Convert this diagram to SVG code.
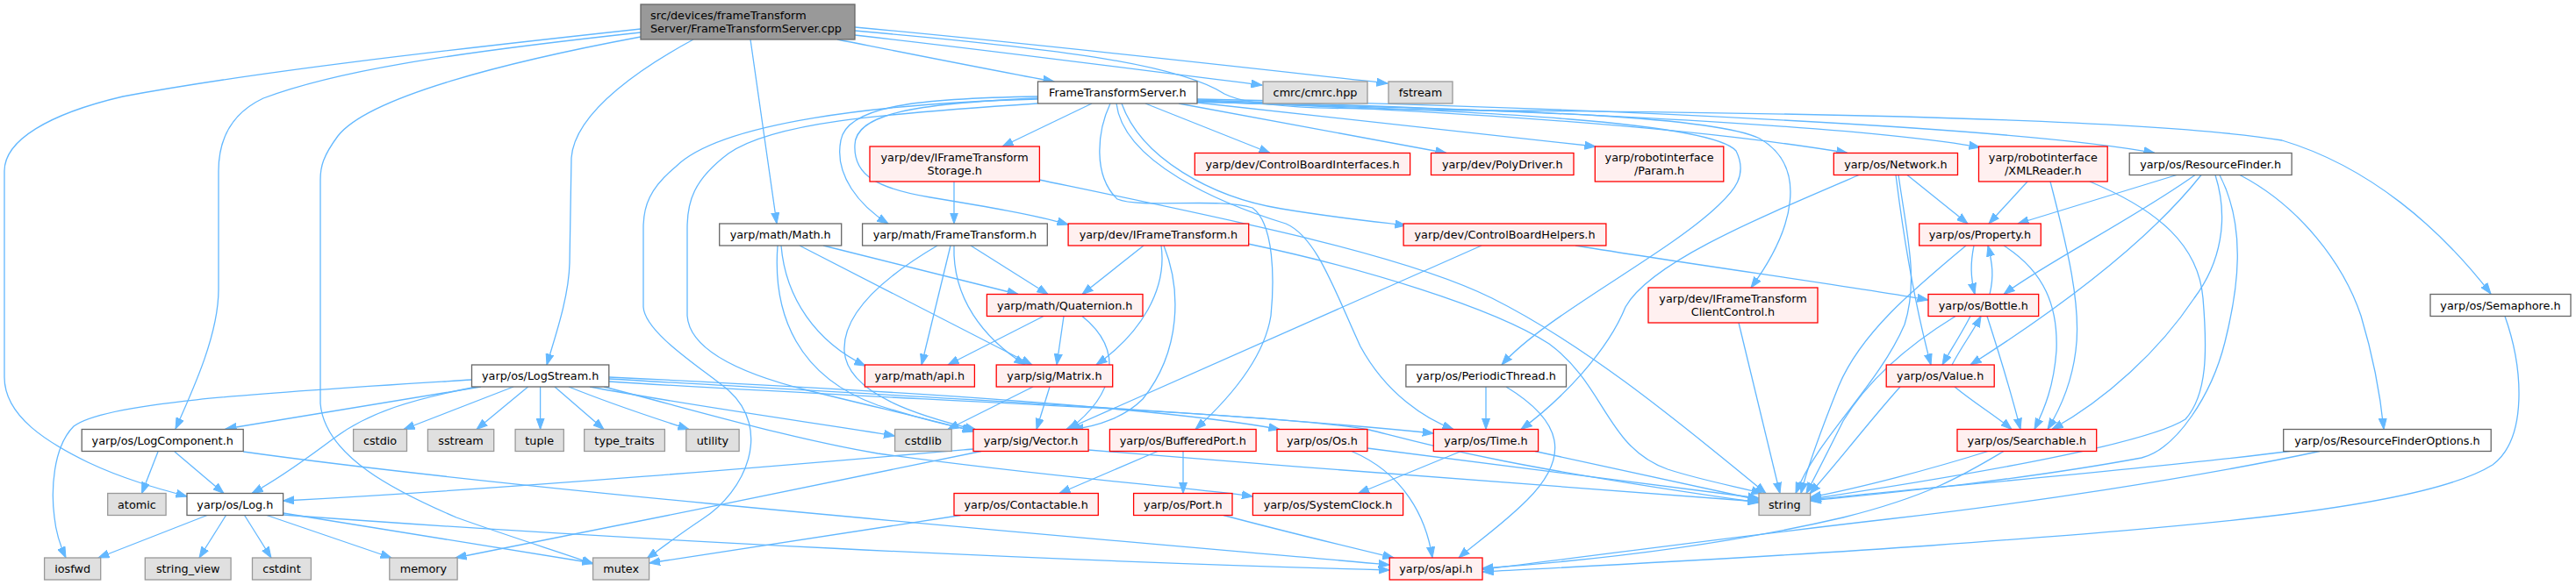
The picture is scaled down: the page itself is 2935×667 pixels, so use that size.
<svg xmlns="http://www.w3.org/2000/svg" width="2935" height="667" viewBox="0 0 2935 667">
<style>
.e{fill:none;stroke:#63b8ff;stroke-width:1.3;marker-end:url(#a)}
rect{stroke-width:1.3}
.w{fill:#fff;stroke:#666}
.r{fill:#fff0f0;stroke:#f00}
.g{fill:#e0e0e0;stroke:#999}
.k{fill:#999;stroke:#666}
text{font-family:"DejaVu Sans",sans-serif;font-size:12.8px;fill:#000;text-anchor:middle}
text.l{text-anchor:start}
</style>
<defs>
<marker id="a" markerWidth="14" markerHeight="10" refX="12.5" refY="5" orient="auto" markerUnits="userSpaceOnUse"><path d="M0,0.5 L12.5,5 L0,9.5 z" fill="#63b8ff" stroke="#63b8ff"/></marker>
</defs>
<rect width="2935" height="667" fill="#fff"/>
<g id="edges">
<path class="e" d="M954,45 C1040,62 1130,80 1201,93"/>
<path class="e" d="M974,40 C1150,60 1300,80 1438,97"/>
<path class="e" d="M974,31 C1200,52 1400,75 1581,95"/>
<path class="e" d="M974,35 C1200,55 1340,72 1395,107 C1430,125 1520,124 1700,126 C2000,128 2450,135 2600,160 C2700,190 2780,260 2838,335"/>
<path class="e" d="M790,45 C740,72 655,125 651,180 L649,300 C648,340 632,385 623,416"/>
<path class="e" d="M730,37 C500,62 380,82 300,112 C262,130 249,160 249,195 L249,330 C249,380 222,440 200,489"/>
<path class="e" d="M730,33 C500,58 290,82 140,110 C55,130 5,160 5,195 L5,430 C5,475 55,505 100,527 C140,546 180,557 213,566"/>
<path class="e" d="M730,42 C580,70 420,110 385,155 C368,178 365,190 365,205 L365,460 C370,520 450,560 520,590 C590,615 640,630 676,643"/>
<path class="e" d="M855,45 L885,255"/>
<path class="e" d="M1244,118 L1142,167"/>
<path class="e" d="M1305,118 L1447,174.5"/>
<path class="e" d="M1343,118 L1648,174.5"/>
<path class="e" d="M1364,117 L1818,167"/>
<path class="e" d="M1364,115 C1600,125 1900,140 2105,174.5"/>
<path class="e" d="M1364,114 C1700,125 2100,140 2256,168"/>
<path class="e" d="M1364,113 C1800,122 2300,145 2455,174.5"/>
<path class="e" d="M1364,116 C1600,124 1940,126 2005,158 C2060,190 2045,260 1995,328"/>
<path class="e" d="M1364,116 C1700,126 1950,140 1978,172 C1992,200 1975,218 1958,234 C1900,290 1760,360 1711,416"/>
<path class="e" d="M1272,118 C1280,185 1390,232 1465,255 C1500,270 1520,330 1550,395 C1580,450 1625,478 1656,489.5"/>
<path class="e" d="M1278,118 C1300,180 1380,225 1460,238 C1520,248 1560,252 1602,257"/>
<path class="e" d="M1182,112 C1040,118 975,130 974,165 C972,200 1000,215 1060,225 C1120,235 1180,245 1217,256"/>
<path class="e" d="M1182,110 C1050,112 965,120 958,160 C950,200 980,235 1012,255"/>
<path class="e" d="M1182,118 C1000,130 880,140 830,175 C790,205 783,230 783,260 L783,360 C785,390 820,420 920,445 C1000,465 1060,478 1110,492"/>
<path class="e" d="M1182,113 C1000,118 820,140 770,190 C740,215 733,235 733,260 L733,350 C735,380 800,420 830,445 C880,490 850,560 800,592 C770,612 752,626 737,637"/>
<path class="e" d="M1265,118 C1250,150 1245,200 1273,227 C1300,238 1390,225 1427,237 C1452,255 1452,320 1448,360 C1440,410 1400,455 1362,489.5"/>
<path class="e" d="M1087,207 L1087,255"/>
<path class="e" d="M1184,205 C1400,250 1600,290 1700,340 C1800,390 1900,470 2012,562.5"/>
<path class="e" d="M1303,280 L1233,335.5"/>
<path class="e" d="M1323,280 C1330,330 1300,380 1249,416"/>
<path class="e" d="M1326,280 C1346,330 1346,400 1302,455 C1282,475 1252,486 1222,489.5"/>
<path class="e" d="M1422,278 C1550,305 1700,350 1765,392 C1830,440 1830,510 1900,535 C1940,548 1980,555 2008,562.5"/>
<path class="e" d="M1106,280 L1194,335.5"/>
<path class="e" d="M1083,280 L1050,416"/>
<path class="e" d="M1087,280 C1085,340 1120,385 1168,416"/>
<path class="e" d="M1068,280 C1000,320 960,360 962,400 C965,450 1050,475 1112,490"/>
<path class="e" d="M938,280 L1160,335.5"/>
<path class="e" d="M911,280 L1176,416"/>
<path class="e" d="M890,280 C895,340 930,390 986,417"/>
<path class="e" d="M886,280 C880,360 910,430 1000,462 C1050,478 1080,485 1109,491"/>
<path class="e" d="M1189,360.5 L1080,416"/>
<path class="e" d="M1212,360.5 L1204,416"/>
<path class="e" d="M1233,360.5 C1282,400 1270,450 1218,489.5"/>
<path class="e" d="M1177,441 L1080,489.5"/>
<path class="e" d="M1196,441 L1181,489.5"/>
<path class="e" d="M1688,280 C1600,320 1450,385 1215,489.5"/>
<path class="e" d="M1795,280 C1950,305 2100,325 2197,342"/>
<path class="e" d="M2173,199.5 L2242,255"/>
<path class="e" d="M2160,199.5 C2170,280 2185,360 2200,416"/>
<path class="e" d="M2118,199.5 C2000,250 1880,300 1852,350 C1832,400 1780,455 1733,489.5"/>
<path class="e" d="M2163,199.5 C2173,270 2186,320 2170,370 C2140,440 2070,500 2046,562.5"/>
<path class="e" d="M2310,207 L2266,255"/>
<path class="e" d="M2336,207 C2355,280 2372,350 2365,400 C2360,440 2345,470 2333,489.5"/>
<path class="e" d="M2381,207 C2460,240 2505,280 2510,340 C2515,400 2515,450 2490,478 C2440,510 2200,548 2062.6,569"/>
<path class="e" d="M2480,199.5 L2299,255"/>
<path class="e" d="M2501,199.5 C2430,250 2330,300 2283,335.5"/>
<path class="e" d="M2508,199.5 C2460,260 2380,330 2245,416"/>
<path class="e" d="M2524,199.5 C2540,250 2530,300 2500,340 C2460,400 2400,455 2338,489.5"/>
<path class="e" d="M2529,199.5 C2560,260 2550,330 2535,390 C2520,450 2480,512 2440,522 C2300,548 2150,562 2062.6,571"/>
<path class="e" d="M2552,199.5 C2620,235 2670,300 2690,360 C2705,410 2712,450 2716,489.5"/>
<path class="e" d="M2249,280 C2245,300 2245,315 2250,335.5"/>
<path class="e" d="M2240,280 C2180,330 2120,380 2095,440 C2075,490 2060,530 2052,562.5"/>
<path class="e" d="M2283,280 C2330,310 2345,350 2343,400 C2340,440 2330,465 2318,489.5"/>
<path class="e" d="M2267,335.5 C2272,315 2270,300 2265,280"/>
<path class="e" d="M2245,360.5 C2235,380 2222,400 2213,416"/>
<path class="e" d="M2264,360.5 C2280,410 2292,450 2302,489.5"/>
<path class="e" d="M2228,360.5 C2180,390 2130,430 2100,480 C2085,510 2070,540 2058,562.5"/>
<path class="e" d="M2224,416 C2235,395 2248,378 2257,360.5"/>
<path class="e" d="M2227,441 C2250,460 2275,475 2292,489.5"/>
<path class="e" d="M2165,441 C2130,480 2100,520 2062,563"/>
<path class="e" d="M2265,514.5 C2200,535 2120,556 2062.6,567"/>
<path class="e" d="M2283,514.5 C2240,540 2200,565 2100,590 C1950,625 1800,640 1689,648"/>
<path class="e" d="M2609,514.5 C2450,535 2200,555 2062.6,570"/>
<path class="e" d="M2643,514.5 C2500,545 2300,575 2150,592 C1950,615 1800,636 1689,649"/>
<path class="e" d="M2854,360.5 C2875,420 2880,500 2840,530 C2760,580 2500,600 2200,622 C2000,636 1800,646 1689,652"/>
<path class="e" d="M1981,368 L2028,562.5"/>
<path class="e" d="M1693,441 L1693,489.5"/>
<path class="e" d="M1716,441 C1780,480 1790,520 1740,570 C1710,600 1680,620 1662,636"/>
<path class="e" d="M537.5,433 C300,448 120,458 84,486 C60,510 58,560 62,590 C64,610 70,625 75,636"/>
<path class="e" d="M548,441 L257,489"/>
<path class="e" d="M543,441 C470,455 420,470 380,500 C340,530 310,550 287,562.5"/>
<path class="e" d="M585,441 L460,489.5"/>
<path class="e" d="M601.6,441 L543,489.5"/>
<path class="e" d="M615.6,441 L615.6,489.5"/>
<path class="e" d="M632,441 L688,489.5"/>
<path class="e" d="M648,441 C690,458 740,475 785,489.5"/>
<path class="e" d="M672,441 C800,465 950,485 1019.6,497"/>
<path class="e" d="M693.8,430 C900,440 1300,460 1458,489.5"/>
<path class="e" d="M693.8,432 C1000,450 1400,470 1633.3,494"/>
<path class="e" d="M693.8,435 C1000,455 1450,470 1560,490 C1620,505 1700,530 2004,573"/>
<path class="e" d="M688,441 C800,470 900,500 1000,517 C1200,545 1350,555 1427.4,566"/>
<path class="e" d="M180,515 L161.5,562.5"/>
<path class="e" d="M199,515 L255,562.5"/>
<path class="e" d="M277.2,515 C600,560 1200,610 1583.2,644"/>
<path class="e" d="M236,587.5 L112,636"/>
<path class="e" d="M257.5,587.5 L227,636"/>
<path class="e" d="M278.6,587.5 L309,636"/>
<path class="e" d="M304,587.5 L446,636"/>
<path class="e" d="M322.6,585 L675.6,642"/>
<path class="e" d="M322.6,587 C700,615 1200,640 1583.2,650"/>
<path class="e" d="M1109,512 C900,530 600,556 322.6,571"/>
<path class="e" d="M1118,514.5 C950,550 700,600 519,636"/>
<path class="e" d="M1240.1,513 C1500,535 1800,555 2004,572"/>
<path class="e" d="M1319,514.5 L1207,562.5"/>
<path class="e" d="M1348,514.5 L1348,562.5"/>
<path class="e" d="M1094.5,587.5 L739.6,642"/>
<path class="e" d="M1394,587.5 C1460,605 1530,622 1588,636"/>
<path class="e" d="M1540,514.5 C1600,540 1625,590 1632,636"/>
<path class="e" d="M1557.9,511 L2004,568"/>
<path class="e" d="M1664.6,514.5 L1547.6,562.5"/>
<path class="e" d="M1749,514.5 L2004,570"/>
</g>
<g id="nodes">
<g id="root"><rect class="k" x="730" y="5" width="244" height="40"/><text class="l" x="741" y="21.5">src/devices/frameTransform</text><text class="l" x="741" y="36.5">Server/FrameTransformServer.cpp</text></g>
<g id="fts"><rect class="w" x="1182.5" y="93" width="181.5" height="25"/><text x="1273.25" y="110">FrameTransformServer.h</text></g>
<g id="cmrc"><rect class="g" x="1439" y="93" width="119" height="25"/><text x="1498.5" y="110">cmrc/cmrc.hpp</text></g>
<g id="fstream"><rect class="g" x="1582" y="93" width="73" height="25"/><text x="1618.5" y="110">fstream</text></g>
<g id="storage"><rect class="r" x="991" y="167" width="193.4" height="40"/><text x="1087.7" y="183.5">yarp/dev/IFrameTransform</text><text x="1087.7" y="198.5">Storage.h</text></g>
<g id="cbi"><rect class="r" x="1361.3" y="174.5" width="245.3" height="25"/><text x="1484" y="191.5">yarp/dev/ControlBoardInterfaces.h</text></g>
<g id="poly"><rect class="r" x="1630.5" y="174.5" width="162.5" height="25"/><text x="1711.75" y="191.5">yarp/dev/PolyDriver.h</text></g>
<g id="param"><rect class="r" x="1817.3" y="167" width="146.5" height="40"/><text x="1890.55" y="183.5">yarp/robotinterface</text><text x="1890.55" y="198.5">/Param.h</text></g>
<g id="network"><rect class="r" x="2089.3" y="174.5" width="141.2" height="25"/><text x="2159.9" y="191.5">yarp/os/Network.h</text></g>
<g id="xml"><rect class="r" x="2254.5" y="167" width="146.7" height="40"/><text x="2327.85" y="183.5">yarp/robotinterface</text><text x="2327.85" y="198.5">/XMLReader.h</text></g>
<g id="rf"><rect class="w" x="2426.2" y="174.5" width="184.9" height="25"/><text x="2518.65" y="191.5">yarp/os/ResourceFinder.h</text></g>
<g id="math"><rect class="w" x="819.7" y="255" width="139" height="25"/><text x="889.2" y="272">yarp/math/Math.h</text></g>
<g id="mft"><rect class="w" x="982.6" y="255" width="210.7" height="25"/><text x="1087.95" y="272">yarp/math/FrameTransform.h</text></g>
<g id="ift"><rect class="r" x="1217.1" y="255" width="205.6" height="25"/><text x="1319.9" y="272">yarp/dev/IFrameTransform.h</text></g>
<g id="cbh"><rect class="r" x="1599.1" y="255" width="230.8" height="25"/><text x="1714.5" y="272">yarp/dev/ControlBoardHelpers.h</text></g>
<g id="prop"><rect class="r" x="2186.7" y="255" width="138.6" height="25"/><text x="2256" y="272">yarp/os/Property.h</text></g>
<g id="quat"><rect class="r" x="1124.4" y="335.5" width="177.6" height="25"/><text x="1213.2" y="352.5">yarp/math/Quaternion.h</text></g>
<g id="cc"><rect class="r" x="1878" y="328" width="193" height="40"/><text x="1974.5" y="344.5">yarp/dev/IFrameTransform</text><text x="1974.5" y="359.5">ClientControl.h</text></g>
<g id="bottle"><rect class="r" x="2197" y="335.5" width="125.7" height="25"/><text x="2259.85" y="352.5">yarp/os/Bottle.h</text></g>
<g id="sem"><rect class="w" x="2769" y="335.5" width="160" height="25"/><text x="2849" y="352.5">yarp/os/Semaphore.h</text></g>
<g id="logstream"><rect class="w" x="537.5" y="416" width="156.3" height="25"/><text x="615.65" y="433">yarp/os/LogStream.h</text></g>
<g id="mapi"><rect class="r" x="985.4" y="416" width="125" height="25"/><text x="1047.9" y="433">yarp/math/api.h</text></g>
<g id="matrix"><rect class="r" x="1135.2" y="416" width="132.5" height="25"/><text x="1201.45" y="433">yarp/sig/Matrix.h</text></g>
<g id="pt"><rect class="w" x="1601.9" y="416" width="182.6" height="25"/><text x="1693.2" y="433">yarp/os/PeriodicThread.h</text></g>
<g id="value"><rect class="r" x="2149.2" y="416" width="123" height="25"/><text x="2210.7" y="433">yarp/os/Value.h</text></g>
<g id="logcomp"><rect class="w" x="93.2" y="489.5" width="184" height="25"/><text x="185.2" y="506.5">yarp/os/LogComponent.h</text></g>
<g id="cstdio"><rect class="g" x="402.6" y="489.5" width="60.9" height="25"/><text x="433.05" y="506.5">cstdio</text></g>
<g id="sstream"><rect class="g" x="487.4" y="489.5" width="75.3" height="25"/><text x="525.05" y="506.5">sstream</text></g>
<g id="tuple"><rect class="g" x="587.1" y="489.5" width="55.2" height="25"/><text x="614.7" y="506.5">tuple</text></g>
<g id="tt"><rect class="g" x="665.7" y="489.5" width="91.7" height="25"/><text x="711.55" y="506.5">type_traits</text></g>
<g id="utility"><rect class="g" x="781.8" y="489.5" width="60.3" height="25"/><text x="811.95" y="506.5">utility</text></g>
<g id="cstdlib"><rect class="g" x="1019.6" y="489.5" width="64.6" height="25"/><text x="1051.9" y="506.5">cstdlib</text></g>
<g id="vector"><rect class="r" x="1109" y="489.5" width="131.1" height="25"/><text x="1174.55" y="506.5">yarp/sig/Vector.h</text></g>
<g id="bp"><rect class="r" x="1264.4" y="489.5" width="166.7" height="25"/><text x="1347.75" y="506.5">yarp/os/BufferedPort.h</text></g>
<g id="os"><rect class="r" x="1455" y="489.5" width="102.9" height="25"/><text x="1506.45" y="506.5">yarp/os/Os.h</text></g>
<g id="time"><rect class="r" x="1633.3" y="489.5" width="119.3" height="25"/><text x="1692.95" y="506.5">yarp/os/Time.h</text></g>
<g id="search"><rect class="r" x="2230" y="489.5" width="158.7" height="25"/><text x="2309.35" y="506.5">yarp/os/Searchable.h</text></g>
<g id="rfo"><rect class="w" x="2601.7" y="489.5" width="236.5" height="25"/><text x="2719.95" y="506.5">yarp/os/ResourceFinderOptions.h</text></g>
<g id="atomic"><rect class="g" x="122.7" y="562.5" width="66.4" height="25"/><text x="155.9" y="579.5">atomic</text></g>
<g id="log"><rect class="w" x="213" y="562.5" width="109.6" height="25"/><text x="267.8" y="579.5">yarp/os/Log.h</text></g>
<g id="contact"><rect class="r" x="1087" y="562.5" width="164.3" height="25"/><text x="1169.15" y="579.5">yarp/os/Contactable.h</text></g>
<g id="port"><rect class="r" x="1291.6" y="562.5" width="112.4" height="25"/><text x="1347.8" y="579.5">yarp/os/Port.h</text></g>
<g id="sysclock"><rect class="r" x="1427.4" y="562.5" width="171.2" height="25"/><text x="1513" y="579.5">yarp/os/SystemClock.h</text></g>
<g id="string"><rect class="g" x="2004" y="562.5" width="58.6" height="25"/><text x="2033.3" y="579.5">string</text></g>
<g id="iosfwd"><rect class="g" x="50.6" y="636" width="64.1" height="25"/><text x="82.65" y="653">iosfwd</text></g>
<g id="sv"><rect class="g" x="165.3" y="636" width="97.8" height="25"/><text x="214.2" y="653">string_view</text></g>
<g id="cstdint"><rect class="g" x="287.5" y="636" width="66.9" height="25"/><text x="320.95" y="653">cstdint</text></g>
<g id="memory"><rect class="g" x="443.8" y="636" width="77.3" height="25"/><text x="482.45" y="653">memory</text></g>
<g id="mutex"><rect class="g" x="675.6" y="636" width="64" height="25"/><text x="707.6" y="653">mutex</text></g>
<g id="api"><rect class="r" x="1583.2" y="636" width="105.8" height="25"/><text x="1636.1" y="653">yarp/os/api.h</text></g>
</g>
</svg>
